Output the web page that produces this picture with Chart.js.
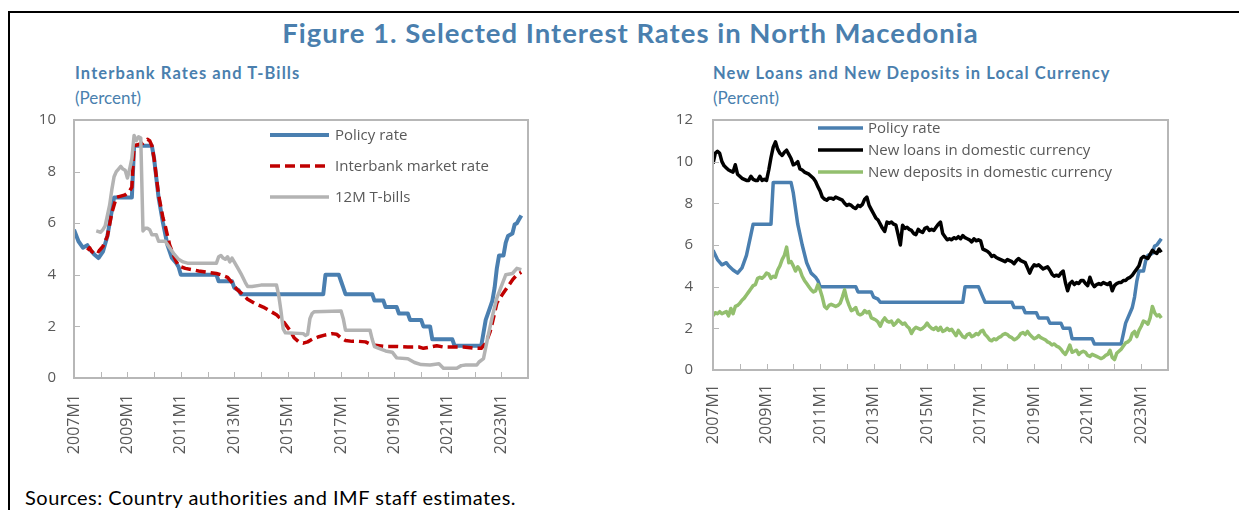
<!DOCTYPE html>
<html>
<head>
<meta charset="utf-8">
<script src="https://cdn.jsdelivr.net/npm/chart.js@4"></script>
<style>
  html, body { margin: 0; padding: 0; background: #fff; }
  body { width: 1239px; height: 510px; position: relative; overflow: hidden; font-family: 'Open Sans', sans-serif; }
  .frame-top { position: absolute; left: 8px; top: 11px; width: 1231px; height: 2px; background: #000; }
  .frame-left { position: absolute; left: 8px; top: 11px; width: 2px; height: 499px; background: #000; }
  .title { position: absolute; left: 0; width: 1261px; top: 16px; text-align: center; font-family: Lato, sans-serif; font-weight: 700; font-size: 27.5px; letter-spacing: 1px; color: #4a7fae; }
  .sub { position: absolute; font-family: Lato, sans-serif; font-weight: 700; font-size: 16.5px; letter-spacing: 1.1px; color: #4a7fae; white-space: nowrap; }
  .unit { position: absolute; font-family: Lato, sans-serif; font-size: 17px; color: #4a7fae; }
  .src { position: absolute; left: 25px; top: 485px; font-family: Lato, sans-serif; font-size: 20px; letter-spacing: 0.5px; color: #000; white-space: nowrap; }
  canvas { position: absolute; }
</style>
</head>
<body>
<div class="frame-top"></div>
<div class="frame-left"></div>
<div class="title">Figure 1. Selected Interest Rates in North Macedonia</div>
<div class="sub" style="left:75px; top:63px;">Interbank Rates and T-Bills</div>
<div class="unit" style="left:75px; top:87px;">(Percent)</div>
<div class="sub" style="left:713px; top:63px;">New Loans and New Deposits in Local Currency</div>
<div class="unit" style="left:713px; top:87px;">(Percent)</div>
<div class="src">Sources: Country authorities and IMF staff estimates.</div>
<div style="position:absolute;left:20px;top:110px;width:520px;height:370px;"><canvas id="c1"></canvas></div>
<div style="position:absolute;left:660px;top:110px;width:520px;height:360px;"><canvas id="c2"></canvas></div>
<script>
// x values are month indices counted from 2007M1 (= 0)
const startYear = 2007;
const axisMonths = 204;

// Policy rate, [month, percent]
const policyRate = [[0,5.75],[2,5.3],[4,5.05],[6,5.15],[7,5.0],[9,4.8],[11,4.65],[13,4.9],[15,5.5],[17,6.5],[18,7.0],[26,7.0],[27,9.0],[35,9.0],[36,8.5],[38,7.0],[40,6.0],[42,5.15],[44,4.65],[46,4.45],[47,4.3],[48,4.0],[64,4.0],[65,3.75],[71,3.75],[72,3.5],[74,3.4],[75,3.25],[112,3.25],[113,4.0],[119,4.0],[120,3.75],[121,3.5],[122,3.25],[134,3.25],[135,3.0],[139,3.0],[140,2.75],[145,2.75],[146,2.5],[150,2.5],[151,2.25],[156,2.25],[157,2.0],[160,2.0],[161,1.5],[170,1.5],[171,1.25],[183,1.25],[184,1.75],[185,2.25],[187,2.75],[188,3.0],[189,3.5],[190,4.25],[191,4.75],[193,4.75],[194,5.25],[195,5.5],[197,5.6],[198,5.95],[199,6.0],[200,6.15],[201,6.3]];

// Interbank market rate, [month, percent]
const interbankRate = [[6,4.95],[7,5.05],[8,4.9],[9,4.85],[10,4.95],[11,4.9],[12,5.0],[13,5.1],[15,5.5],[17,6.4],[19,7.0],[21,7.05],[23,7.1],[25,7.25],[26,7.4],[27,9.0],[29,9.05],[31,9.1],[33,9.25],[34,9.2],[35,9.0],[36,8.5],[38,7.1],[40,6.2],[41,5.9],[43,5.15],[45,4.7],[46,4.5],[47,4.35],[50,4.25],[53,4.2],[56,4.15],[60,4.1],[64,4.05],[66,4.0],[69,3.9],[71,3.7],[73,3.45],[75,3.3],[78,3.05],[81,2.9],[85,2.75],[88,2.6],[91,2.45],[94,2.2],[97,1.85],[99,1.55],[101,1.4],[103,1.35],[105,1.4],[107,1.5],[110,1.6],[113,1.67],[116,1.72],[118,1.7],[120,1.55],[122,1.45],[125,1.42],[128,1.42],[131,1.4],[134,1.28],[137,1.25],[140,1.22],[145,1.22],[150,1.2],[155,1.2],[157,1.15],[160,1.2],[163,1.25],[166,1.2],[170,1.2],[175,1.2],[180,1.15],[183,1.15],[185,1.35],[187,1.8],[188,2.15],[190,2.9],[191,3.05],[193,3.3],[195,3.55],[197,3.8],[199,4.0],[201,4.1]];

// 12M T-bills, [month, percent]
const tBills12M = [[10,5.7],[12,5.65],[13,5.75],[14,5.9],[16,6.7],[17,7.3],[18,7.8],[19,8.0],[20,8.1],[21,8.2],[22,8.1],[23,8.05],[24,7.75],[25,8.1],[26,8.5],[27,9.4],[28,9.2],[29,9.35],[30,9.3],[31,5.7],[32,5.8],[33,5.8],[34,5.75],[35,5.55],[37,5.55],[38,5.3],[41,5.3],[43,5.05],[45,4.8],[47,4.6],[49,4.5],[51,4.45],[64,4.45],[65,4.7],[66,4.75],[67,4.65],[68,4.6],[69,4.7],[70,4.5],[71,4.65],[72,4.5],[74,4.2],[75,4.05],[77,3.7],[78,3.55],[80,3.55],[84,3.6],[91,3.6],[92,3.2],[93,2.6],[94,1.9],[95,1.75],[103,1.72],[104,1.65],[105,1.7],[106,2.3],[107,2.5],[108,2.57],[120,2.6],[121,2.3],[122,1.85],[133,1.85],[134,1.5],[135,1.22],[137,1.15],[140,1.05],[143,1.0],[145,0.78],[150,0.75],[153,0.6],[156,0.52],[160,0.5],[164,0.55],[166,0.38],[172,0.38],[174,0.48],[176,0.5],[181,0.5],[182,0.62],[184,0.75],[186,1.6],[188,2.4],[190,3.1],[192,3.55],[194,4.0],[197,4.05],[199,4.25],[201,4.2]];

// New loans in domestic currency, monthly from 2007M1
const newLoans = [9.9,10.4,10.5,10.4,10.0,9.8,9.7,9.6,9.55,9.5,
9.85,9.4,9.3,9.2,9.15,9.1,9.1,9.3,9.15,9.1,
9.1,9.3,9.1,9.15,9.1,9.6,10.2,10.7,10.95,10.6,
10.4,10.3,10.45,10.55,10.35,10.15,9.85,9.9,10.0,9.65,
9.6,9.5,9.45,9.4,9.3,9.2,9.05,8.8,8.6,8.3,
8.2,8.15,8.25,8.25,8.2,8.3,8.25,8.2,8.15,8.0,
7.9,7.95,7.9,7.8,7.75,7.9,7.85,7.95,8.2,8.3,
7.9,7.7,7.5,7.3,7.2,7.0,6.8,6.65,7.1,7.05,
7.1,7.0,6.95,6.5,6.0,6.95,6.8,6.85,6.75,6.7,
6.55,6.5,6.75,6.65,6.6,6.8,6.85,6.7,6.75,6.7,
6.85,7.0,7.1,6.55,6.4,6.25,6.3,6.25,6.35,6.3,
6.4,6.3,6.45,6.35,6.3,6.25,6.15,6.3,6.2,6.25,
6.2,5.8,5.75,5.7,5.6,5.45,5.5,5.4,5.35,5.3,
5.25,5.2,5.3,5.25,5.2,5.1,5.25,5.35,5.25,5.2,
5.15,4.9,4.65,4.9,5.05,5.0,5.05,4.95,4.85,4.9,
4.95,4.8,4.6,4.5,4.55,4.5,4.65,4.75,4.2,3.8,
4.15,4.25,4.1,4.2,4.15,4.3,4.3,4.15,4.05,4.45,
4.15,4.0,4.1,4.15,4.1,4.2,4.15,4.1,4.2,3.8,
4.05,4.15,4.2,4.2,4.3,4.3,4.4,4.45,4.55,4.7,
4.85,5.0,5.35,5.45,5.4,5.35,5.55,5.75,5.65,5.6,
5.8,5.65];

// New deposits in domestic currency, monthly from 2007M1
const newDeposits = [2.6,2.75,2.7,2.8,2.7,2.75,2.8,2.6,2.95,2.7,3.05,
3.1,3.2,3.35,3.45,3.6,3.75,3.9,4.05,4.1,4.4,
4.45,4.4,4.5,4.65,4.6,4.4,4.5,4.45,4.8,5.0,
5.3,5.5,5.9,5.15,5.2,5.0,4.75,4.95,4.8,4.5,
4.3,4.15,4.0,3.85,3.75,3.8,4.1,3.85,3.5,3.05,
2.95,3.1,3.15,3.1,3.05,3.1,3.2,3.5,3.85,3.4,
3.1,2.85,2.9,3.0,2.7,2.65,2.7,2.85,2.75,2.8,
2.5,2.45,2.4,2.3,2.1,2.35,2.5,2.35,2.3,2.35,
2.15,2.25,2.4,2.3,2.2,2.25,2.1,2.0,1.75,1.95,
2.05,2.0,1.95,2.0,2.1,2.25,2.1,2.0,1.95,2.05,
1.9,2.05,1.85,1.9,2.0,1.9,1.95,1.8,1.65,1.9,
1.75,1.6,1.55,1.7,1.75,1.6,1.65,1.75,1.7,1.85,
1.9,1.7,1.6,1.45,1.4,1.5,1.45,1.55,1.6,1.7,
1.75,1.7,1.6,1.55,1.45,1.5,1.6,1.75,1.8,1.7,
1.85,1.7,1.6,1.5,1.55,1.65,1.55,1.5,1.45,1.35,
1.3,1.2,1.25,1.15,1.1,1.0,0.85,0.75,0.95,1.2,
0.85,0.9,0.95,0.75,0.85,0.9,0.85,0.7,0.65,0.75,
0.7,0.65,0.6,0.55,0.6,0.7,0.75,0.95,0.6,0.5,
0.8,0.9,1.0,1.15,1.3,1.35,1.45,1.75,1.85,1.6,
1.9,2.1,2.35,2.3,2.2,2.5,3.05,2.75,2.6,2.65,2.5];

const leftYTicks = [0, 2, 4, 6, 8, 10];
const rightYTicks = [0, 2, 4, 6, 8, 10, 12];

const pairs = a => a.map(p => ({ x: p[0], y: p[1] }));
const monthly = a => a.map((v, i) => ({ x: i, y: v }));

Chart.defaults.font.family = "'Open Sans', sans-serif";
Chart.defaults.color = '#595959';
const BORDER = '#b7b7b7';

const frameAndTicks = {
  id: 'frameAndTicks',
  afterDatasetsDraw(chart) {
    const { ctx, chartArea: a, scales } = chart;
    ctx.save();
    ctx.strokeStyle = BORDER;
    ctx.lineWidth = 2;
    ctx.strokeRect(a.left, a.top, a.right - a.left, a.bottom - a.top);
    ctx.lineWidth = 1;
    ctx.beginPath();
    for (let m = 12; m < axisMonths; m += 12) {
      const px = Math.round(scales.x.getPixelForValue(m)) + 0.5;
      ctx.moveTo(px, a.bottom);
      ctx.lineTo(px, a.bottom - 6);
    }
    scales.y.ticks.forEach(t => {
      if (t.value === scales.y.min || t.value === scales.y.max) return;
      const py = Math.round(scales.y.getPixelForValue(t.value)) + 0.5;
      ctx.moveTo(a.left, py);
      ctx.lineTo(a.left + 6, py);
    });
    ctx.stroke();
    ctx.restore();
  }
};

function legendPlugin(cfg) {
  return {
    id: 'inLegend',
    afterDatasetsDraw(chart) {
      const { ctx } = chart;
      ctx.save();
      ctx.font = cfg.font;
      ctx.fillStyle = '#595959';
      ctx.textBaseline = 'middle';
      cfg.order.forEach((idx, row) => {
        const d = chart.data.datasets[idx];
        const y = cfg.y0 + row * cfg.dy - cfg.oy;
        ctx.beginPath();
        ctx.strokeStyle = d.borderColor;
        ctx.lineWidth = d.borderWidth;
        ctx.setLineDash(d.borderDash || []);
        ctx.moveTo(cfg.x0 - cfg.ox, y);
        ctx.lineTo(cfg.x1 - cfg.ox, y);
        ctx.stroke();
        ctx.setLineDash([]);
        ctx.fillText(d.label, cfg.tx - cfg.ox, y + 1);
      });
      ctx.restore();
    }
  };
}

function zeroPad(s) { s.paddingTop = 0; s.paddingBottom = 0; s.paddingLeft = 0; s.paddingRight = 0; }

function xScale(pad) {
  return {
    type: 'linear', min: 0, max: axisMonths,
    grid: { display: false, drawTicks: false },
    border: { display: false },
    afterFit(s) { s.height = pad.h; zeroPad(s); },
    ticks: {
      stepSize: 12, autoSkip: false, minRotation: 90, maxRotation: 90,
      padding: pad.p, color: '#595959', font: { size: 16 },
      callback: v => (v % 24 === 0 && v <= 192) ? (startYear + v / 12) + 'M1' : ''
    }
  };
}
function yScale(ticks, w, p) {
  return {
    min: ticks[0], max: ticks[ticks.length - 1],
    grid: { display: false, drawTicks: false },
    border: { display: false },
    afterFit(s) { s.width = w; zeroPad(s); },
    ticks: { stepSize: 2, padding: p, color: '#595959', font: { size: 15 } }
  };
}
const common = {
  responsive: true, maintainAspectRatio: false, animation: false,
  plugins: { legend: { display: false }, tooltip: { enabled: false } },
  elements: { point: { radius: 0 }, line: { tension: 0, borderCapStyle: 'butt', borderJoinStyle: 'round' } }
};

new Chart(document.getElementById('c1'), {
  type: 'line',
  data: { datasets: [
    { label: 'Policy rate', data: pairs(policyRate), borderColor: '#4a7fb0', borderWidth: 4, order: 3 },
    { label: 'Interbank market rate', data: pairs(interbankRate), borderColor: '#c00000', borderWidth: 3.5, borderDash: [10, 5], order: 2 },
    { label: '12M T-bills', data: pairs(tBills12M), borderColor: '#b3b3b3', borderWidth: 3.5, order: 1 }
  ]},
  options: Object.assign({}, common, {
    layout: { padding: { top: 10, right: 12, left: 0, bottom: 0 } },
    scales: { x: xScale({ h: 102, p: 16 }), y: yScale(leftYTicks, 54, 18) }
  }),
  plugins: [frameAndTicks, legendPlugin({ font: "15px 'Open Sans'", order: [0, 1, 2], x0: 270, x1: 329, tx: 335, y0: 135, dy: 31, ox: 20, oy: 110 })]
});

new Chart(document.getElementById('c2'), {
  type: 'line',
  data: { datasets: [
    { label: 'Policy rate', data: pairs(policyRate), borderColor: '#4a7fb0', borderWidth: 3.5, order: 3 },
    { label: 'New loans in domestic currency', data: monthly(newLoans), borderColor: '#000000', borderWidth: 3.5, order: 2 },
    { label: 'New deposits in domestic currency', data: monthly(newDeposits), borderColor: '#93bf6e', borderWidth: 3.5, order: 1 }
  ]},
  options: Object.assign({}, common, {
    layout: { padding: { top: 10, right: 12, left: 0, bottom: 0 } },
    scales: { x: xScale({ h: 100, p: 14 }), y: yScale(rightYTicks, 53, 20) }
  }),
  plugins: [frameAndTicks, legendPlugin({ font: "15px 'Open Sans'", order: [0, 1, 2], x0: 818, x1: 863, tx: 868, y0: 128, dy: 22, ox: 660, oy: 110 })]
});
</script>
</body>
</html>
